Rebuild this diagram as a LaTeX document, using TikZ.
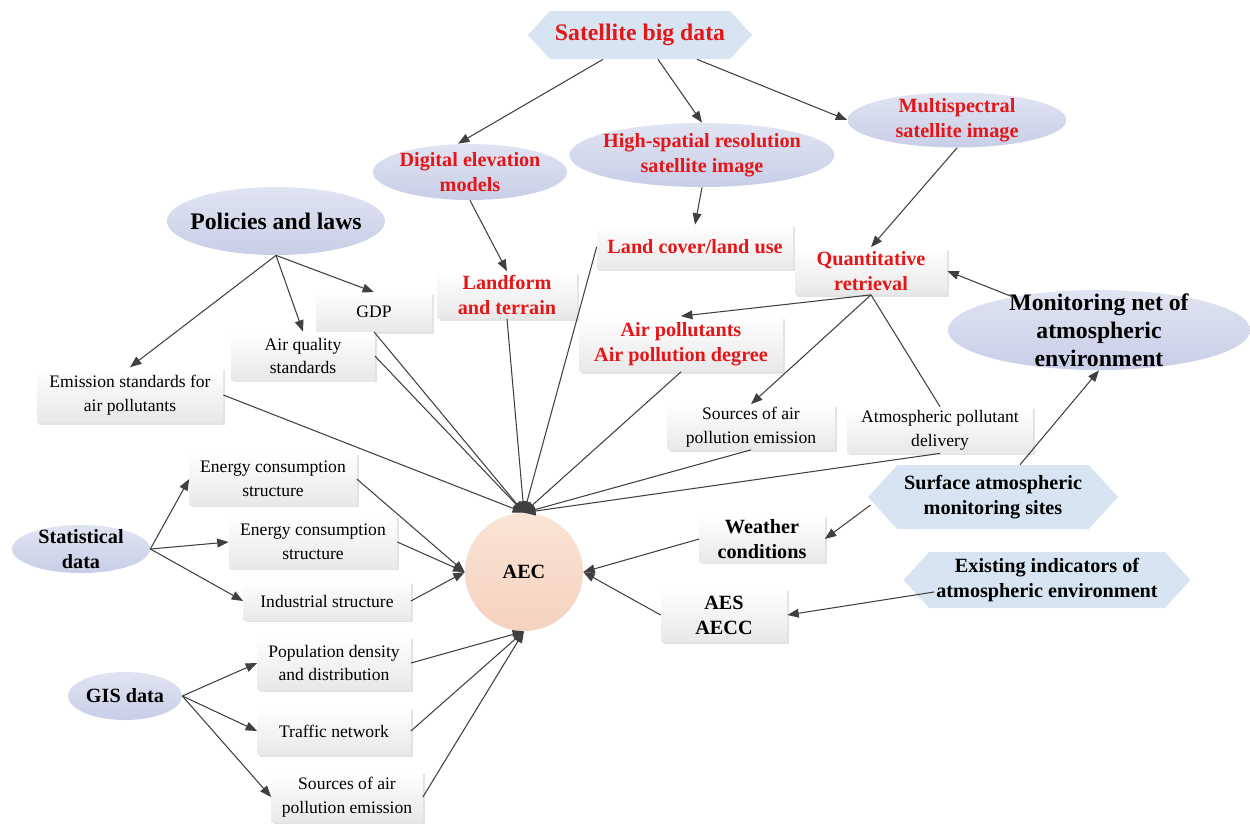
\documentclass[tikz,border=0pt]{standalone}
\usepackage{fontspec}
\setmainfont{Liberation Serif}
\usepackage{tikz}
\usetikzlibrary{calc}
\usetikzlibrary{shapes,arrows.meta,shadows}

\definecolor{redtxt}{RGB}{228,22,24}
\definecolor{ellbot}{RGB}{200,206,231}
\definecolor{elltop}{RGB}{224,228,242}
\definecolor{hexblue}{RGB}{214,229,241}
\definecolor{aectop}{RGB}{251,228,214}
\definecolor{aecbot}{RGB}{244,210,190}
\definecolor{linegray}{RGB}{64,64,64}

\begin{document}
\begin{tikzpicture}[x=0.2mm,y=-0.2mm,
    >={Triangle[length=6.5pt,width=5pt]},
    conn/.style={draw=linegray,line width=0.6pt},
    box/.style={rectangle,align=center,inner sep=1pt,top color=white,bottom color=black!9,
      drop shadow={shadow xshift=1.2pt,shadow yshift=-1.2pt,opacity=.22}},
    ellip/.style={ellipse,align=center,inner sep=-2cm,top color=elltop,bottom color=ellbot},
    hexa/.style={signal,signal to=east and west,signal pointer angle=95,align=center,inner xsep=0pt,fill=hexblue},
    smalltxt/.style={font=\fontsize{10}{13.6}\selectfont},
    midtxt/.style={font=\fontsize{11.5}{14.2}\selectfont\bfseries},
    bigtxt/.style={font=\fontsize{13.5}{15.9}\selectfont\bfseries},
    redlabel/.style={text=redtxt}]
    \useasboundingbox (0,0) rectangle (1250,823);

    \node[hexa,bigtxt,redlabel,minimum width=44.8mm,minimum height=9.6mm] (satdata) at (640,35) {Satellite big data};
    \node[ellip,midtxt,redlabel,minimum width=38.8mm,minimum height=11.2mm] (dem) at (470,172) {Digital elevation\\models};
    \node[ellip,midtxt,redlabel,minimum width=53mm,minimum height=12.8mm] (hsr) at (702,155) {High-spatial resolution\\satellite image};
    \node[ellip,midtxt,redlabel,minimum width=43.8mm,minimum height=11mm] (msi) at (957,120) {Multispectral\\satellite image};
    \node[ellip,bigtxt,minimum width=43.6mm,minimum height=13.6mm] (policy) at (276,221) {Policies and laws};
    \node[box,smalltxt,minimum width=23.2mm,minimum height=7.8mm] (gdp) at (374,312) {GDP};
    \node[box,smalltxt,minimum width=28.6mm,minimum height=9.6mm] (airstd) at (303,356) {Air quality\\standards};
    \node[box,smalltxt,minimum width=37.2mm,minimum height=11mm] (emistd) at (130,395) {Emission standards for\\air pollutants};
    \node[box,midtxt,redlabel,minimum width=27.8mm,minimum height=9.4mm] (landform) at (507,295) {Landform\\and terrain};
    \node[box,midtxt,redlabel,minimum width=39.2mm,minimum height=8.8mm] (landuse) at (695,247) {Land cover/land use};
    \node[box,midtxt,redlabel,minimum width=30.4mm,minimum height=9.4mm] (quant) at (871,271) {Quantitative\\retrieval};
    \node[box,midtxt,redlabel,minimum width=40.6mm,minimum height=11mm] (airpol) at (681,344) {Air pollutants\\Air pollution degree};
    \node[box,smalltxt,minimum width=33.4mm,minimum height=9mm] (srcup) at (751,427) {Sources of air\\pollution emission};
    \node[box,smalltxt,minimum width=37mm,minimum height=9.2mm] (delivery) at (940,430) {Atmospheric pollutant\\delivery};
    \node[ellip,bigtxt,minimum width=60.4mm,minimum height=16mm] (monnet) at (1099,330) {Monitoring net of\\atmospheric\\environment};
    \node[hexa,midtxt,minimum width=50mm,minimum height=12.8mm] (surface) at (993,497) {Surface atmospheric\\monitoring sites};
    \node[box,midtxt,minimum width=25mm,minimum height=9.2mm] (weather) at (762,539) {Weather\\conditions};
    \node[hexa,midtxt,minimum width=57.4mm,minimum height=11.2mm] (indic) at (1047,580) {Existing indicators of\\atmospheric environment};
    \node[box,midtxt,minimum width=25.2mm,minimum height=10.6mm] (aes) at (724,615) {AES\\AECC};
    \node[circle,midtxt,inner sep=0pt,minimum size=23.6mm,top color=aectop,bottom color=aecbot] (aec) at (524,572) {AEC};
    \node[ellip,midtxt,minimum width=27.6mm,minimum height=9.6mm] (stat) at (81,549) {Statistical\\data};
    \node[ellip,midtxt,minimum width=22.8mm,minimum height=9.6mm] (gis) at (125,696) {GIS data};
    \node[box,smalltxt,minimum width=33.4mm,minimum height=10.4mm] (energyA) at (273,479) {Energy consumption\\structure};
    \node[box,smalltxt,minimum width=33.6mm,minimum height=10.4mm] (energyB) at (313,542) {Energy consumption\\structure};
    \node[box,smalltxt,minimum width=33.4mm,minimum height=7.6mm] (indus) at (327,601) {Industrial structure};
    \node[box,smalltxt,minimum width=30.6mm,minimum height=10.6mm] (popden) at (334,663) {Population density\\and distribution};
    \node[box,smalltxt,minimum width=30.6mm,minimum height=9.4mm] (traffic) at (334,731) {Traffic network};
    \node[box,smalltxt,minimum width=30.2mm,minimum height=10.2mm] (srclow) at (347,797) {Sources of air\\pollution emission};

    % satellite side
    \draw [conn,->] ($(satdata.south)+(-37,0)$)--($(dem.north)+(-12,0)$);
    \draw [conn,->] ($(satdata.south)+(18,0)$)--(hsr.north);
    \draw [conn,->] ($(satdata.south)+(57,0)$)--(msi.west);
    \draw [conn,->] (dem.south)--(landform.north);
    \draw [conn,->] (hsr.south)--(landuse.north);
    \draw [conn,->] (msi.south)--(quant.north);
    \draw [conn,->] (monnet.159)--(quant.east);
    \draw [conn,->] (quant.south)--(airpol.north);
    \draw [conn,->] (quant.south)--(srcup.north);
    \draw [conn] (quant.south)--(delivery.north);
    \draw [conn,->] ($(surface.north)+(27,0)$)--(monnet.south);
    \draw [conn,->] ($(surface.west)+(3,8)$)--(weather.east);
    \draw [conn,->] ($(indic.west)+(31,12)$)--(aes.east);
    \draw [conn,->] (weather.west)--(aec.east);
    \draw [conn,->] (aes.west)--(aec.east);
    % policies
    \draw [conn,->] (policy.south)--(emistd.north);
    \draw [conn,->] (policy.south)--(airstd.north);
    \draw [conn,->] (policy.south)--(gdp.north);
    % statistical and GIS data
    \draw [conn,->] (stat.east)--(energyA.west);
    \draw [conn,->] (stat.east)--(energyB.west);
    \draw [conn,->] (stat.east)--(indus.west);
    \draw [conn,->] (gis.east)--(popden.west);
    \draw [conn,->] (gis.east)--(traffic.west);
    \draw [conn,->] (gis.east)--(srclow.west);
    % into AEC
    \draw [conn,->] (emistd.east)--(aec.north);
    \draw [conn,->] (airstd.east)--(aec.north);
    \draw [conn,->] (gdp.south)--(aec.north);
    \draw [conn,->] (landform.south)--(aec.north);
    \draw [conn,->] (landuse.west)--(aec.north);
    \draw [conn,->] (airpol.south)--(aec.north);
    \draw [conn,->] (srcup.south)--(aec.north);
    \draw [conn,->] (delivery.south)--(aec.north);
    \draw [conn,->] (energyA.east)--(aec.west);
    \draw [conn,->] (energyB.east)--(aec.west);
    \draw [conn,->] (indus.east)--(aec.west);
    \draw [conn,->] (popden.east)--(aec.south);
    \draw [conn,->] (traffic.east)--(aec.south);
    \draw [conn,->] (srclow.east)--(aec.south);
  \end{tikzpicture}
\end{document}
